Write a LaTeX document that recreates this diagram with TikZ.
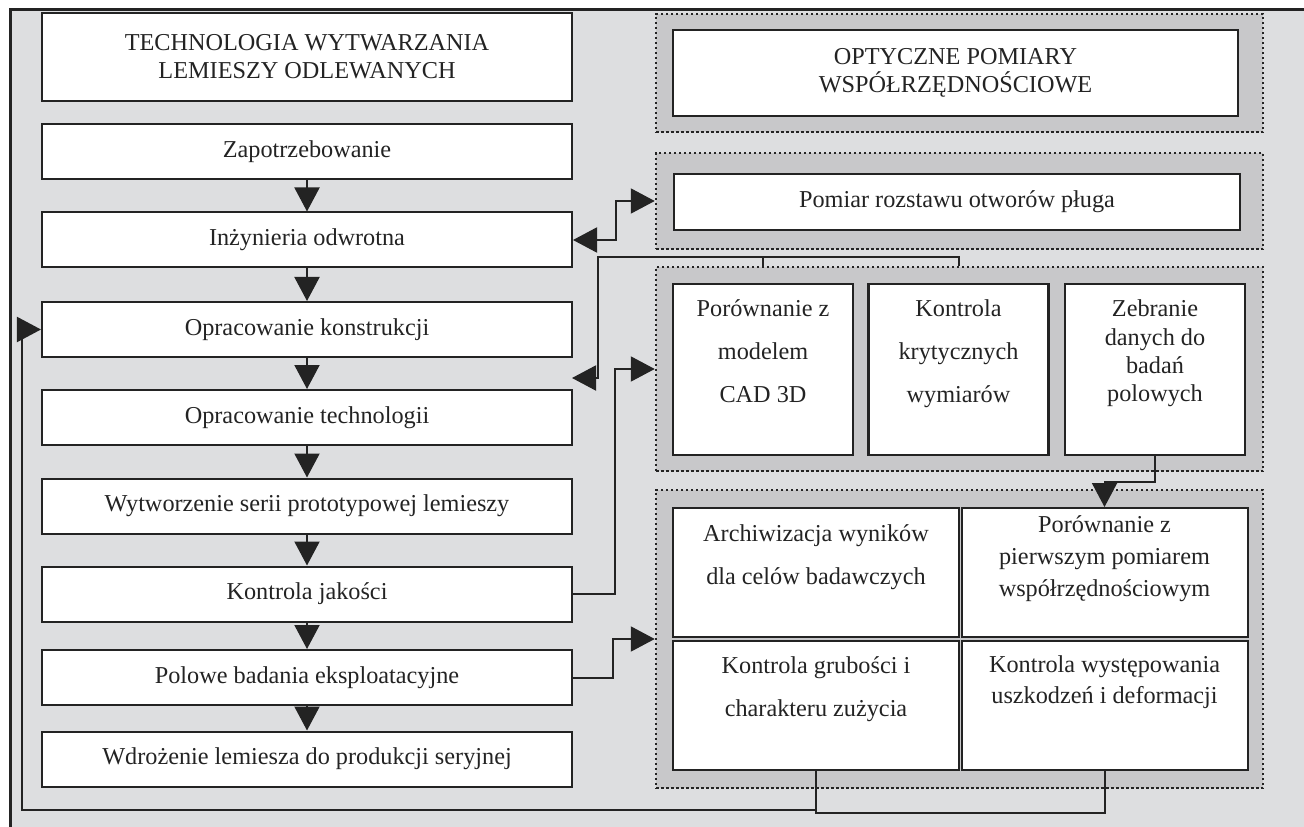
\documentclass[tikz,border=0pt]{standalone}
\usepackage{fontspec}
\setmainfont{Liberation Serif}
\usepackage{tikz}
\usetikzlibrary{shapes,arrows,arrows.meta,positioning,fit}

\definecolor{tlo}{RGB}{221,222,224}
\definecolor{ramka}{RGB}{200,200,202}
\definecolor{linia}{RGB}{35,35,35}

\begin{document}
\begin{tikzpicture}[x=0.2mm, y=-0.2mm, >={Triangle[length=4.8mm,width=5mm]}, font=\fontsize{13.8}{16}\selectfont]
			\tikzstyle{Step}	= [draw=linia, fill=white, line width=0.4mm, minimum width=106mm, minimum height=11mm, inner sep=0pt, align=center, text=linia]
			\tikzstyle{Group}	= [draw=linia, fill=ramka, line width=0.5mm, dash pattern=on 0.5mm off 0.5mm, minimum width=121.4mm, inner sep=0pt]
			\tikzstyle{Cell}	= [draw=linia, fill=white, line width=0.5mm, inner sep=0pt, align=center, text=linia]
			\tikzstyle{Txt}		= [align=center, inner sep=0pt, text=linia]
			\tikzstyle{Link}	= [draw=linia, line width=0.4mm]
			
			\useasboundingbox (0,0) rectangle (1304,827);
			\fill [white] (0,0) rectangle (1304,827);
			\fill [tlo] (10,10) rectangle (1304,827);
			\draw [linia, line width=0.6mm] (10,827) -- (10,10) -- (1304,10);
			
			% lewa kolumna
			\node (tyt) at (307,57) [Step, minimum height=17.6mm] {TECHNOLOGIA WYTWARZANIA\\LEMIESZY ODLEWANYCH};
			\foreach \n/\y/\t in {zap/151.5/Zapotrzebowanie, inz/240/Inżynieria odwrotna, kon/329.5/Opracowanie konstrukcji, tec/417.5/Opracowanie technologii, wyt/506/Wytworzenie serii prototypowej lemieszy, kja/594/Kontrola jakości, pol/677.5/Polowe badania eksploatacyjne, wdr/759/Wdrożenie lemiesza do produkcji seryjnej}
				\node (\n) at (307,\y) [Step] {\t};
			\foreach \a/\b in {zap/inz, inz/kon, kon/tec, tec/wyt, wyt/kja, kja/pol, pol/wdr}
				\draw [Link, ->] (\a) -- (\b);
			
			% prawa kolumna
			\foreach \n/\y/\h in {g1/73/23.6, g2/201/19.2, g3/369/40.8, g4/639/59.6}
				\node (\n) at (959.5,\y) [Group, minimum height=\h mm] {};
			\node (opt) at (955.5,73) [Cell, minimum width=113mm, minimum height=17.2mm] {OPTYCZNE POMIARY\\WSPÓŁRZĘDNOŚCIOWE};
			\node (pom) at (957,202) [Cell, minimum width=113.2mm, minimum height=11.2mm] {Pomiar rozstawu otworów pługa};
			\foreach \n/\x in {por/763, kry/958.5, zeb/1155}
				\node (\n) at (\x,369.5) [Cell, minimum width=36mm, minimum height=34.2mm] {};
			\foreach \n/\x/\y in {arc/816/572.5, pie/1104.5/572.5, kgr/816/705, kwy/1104.5/705}
				\node (\n) at (\x,\y) [Cell, line width=0.4mm, minimum width=57.2mm, minimum height=25.8mm] {};
			
			\node (por-t) [Txt, below=3.4mm of por.north] {Porównanie z\\[8.4pt]modelem\\[8.4pt]CAD 3D};
			\node (kry-t) [Txt, below=3.4mm of kry.north] {Kontrola\\[8.4pt]krytycznych\\[8.4pt]wymiarów};
			\node (zeb-t) [Txt, below=3.4mm of zeb.north] {Zebranie\\danych do\\badań\\polowych};
			\node (arc-t) [Txt, below=3.4mm of arc.north] {Archiwizacja wyników\\[8.4pt]dla celów badawczych};
			\node (pie-t) [Txt, below=1.6mm of pie.north] {Porównanie z\\[2.2pt]pierwszym pomiarem\\[2.2pt]współrzędnościowym};
			\node (kgr-t) [Txt, below=3.4mm of kgr.north] {Kontrola grubości i\\[8.4pt]charakteru zużycia};
			\node (kwy-t) [Txt, below=3.2mm of kwy.north] {Kontrola występowania\\[1.5pt]uszkodzeń i deformacji};
			
			% polaczenia
			\coordinate (kt) at (572,378);
			\draw [Link, <->] (inz.east) -- ++(43,0) |- (g2.west);
			\draw [Link, ->] (kry.north |- g3.north) |- (598,257) |- (kt);
			\draw [Link] (por.north |- g3.north) -- ++(0,-10);
			\draw [Link, ->] (kja.east) -- ++(42,0) |- (g3.west);
			\draw [Link, ->] (pol.east) -- ++(40,0) |- (g4.west);
			\draw [Link, ->] (zeb.south) -- ++(0,26) -| (pie.north);
			\draw [Link] (kgr.south) -- ++(0,42) -| (kwy.south);
			\draw [Link, ->] (kgr.south) ++(0,39) -| ([xshift=-3.8mm]kon.west) -- (kon.west);
\end{tikzpicture}
\end{document}
